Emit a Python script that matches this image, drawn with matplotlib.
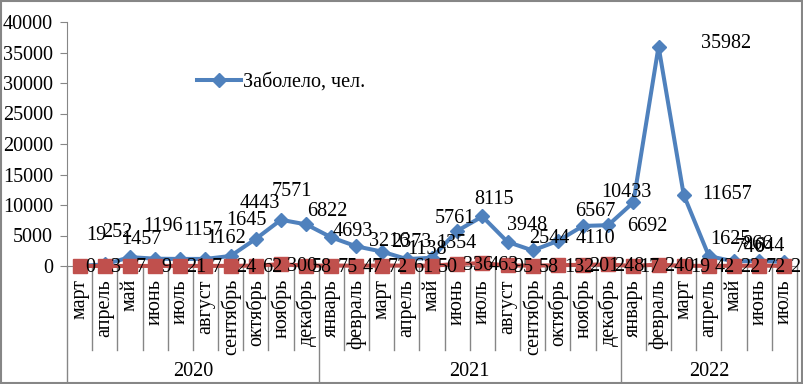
import matplotlib
matplotlib.use('Agg')
import matplotlib.pyplot as plt
import matplotlib.transforms as mtransforms
from matplotlib.patches import Rectangle

plt.rcParams['font.family'] = ['Liberation Serif', 'DejaVu Serif']

# data
years = ['2020', '2021', '2022']
months_2020 = ['март', 'апрель', 'май', 'июнь', 'июль', 'август', 'сентябрь',
               'октябрь', 'ноябрь', 'декабрь']
months_2021 = ['январь', 'февраль', 'март', 'апрель', 'май', 'июнь', 'июль',
               'август', 'сентябрь', 'октябрь', 'ноябрь', 'декабрь']
months_2022 = ['январь', 'февраль', 'март', 'апрель', 'май', 'июнь', 'июль']

sick = [19, 252, 1457, 1196, 1157, 1162, 1645, 4443, 7571, 6822,
        4693, 3216, 2373, 1138, 1354, 5761, 8115, 3948, 2544, 4110, 6567, 6692,
        10433, 35982, 11657, 1625, 746, 866, 644]
died = [0, 3, 7, 9, 21, 7, 24, 62, 300, 58,
        75, 47, 72, 61, 50, 336, 463, 95, 58, 132, 201, 248,
        17, 240, 19, 42, 22, 72, 2]

# label offsets for the blue series (pixels), tuned by eye
sick_lbl_off = [(17, 30), (12, 32), (11, 18), (8, 32), (23, 28), (21, 20), (16, 35),
                (4, 35), (11, 28), (21, 13), (21, 6), (33, 5), (30, 9), (20, 10),
                (24, 14), (-2, 12), (12, 17), (20, 16), (17, 12), (38, 2), (12, 14),
                (39, -1), (-7, 10), (68, 3), (43, 0), (22, 17), (16, 14), (-2, 16),
                (-15, 16)]

months = months_2020 + months_2021 + months_2022
year_sizes = [len(months_2020), len(months_2021), len(months_2022)]
x = list(range(len(months)))

blue = '#4F81BD'
red = '#C0504D'
grey = '#868686'
fs = 14.5

fig = plt.figure(figsize=(8.04, 3.84), dpi=100)
ax = fig.add_axes([67/804, 1 - 266/384, 730/804, 244/384])

ax.plot(x, sick, color=blue, lw=2.9, marker='D', ms=7, label='Заболело, чел.',
        zorder=3, clip_on=False)
ax.plot(x, died, color=red, lw=2.9, marker='s', ms=10, zorder=4, clip_on=False)

for i, v in enumerate(sick):
    ax.annotate(str(v), (i, v), xytext=sick_lbl_off[i], textcoords='offset pixels',
                ha='center', va='center', fontsize=fs, zorder=6)
for i, v in enumerate(died):
    ax.annotate(str(v), (i, v), xytext=(6, -2), textcoords='offset pixels',
                ha='left', va='center', fontsize=fs, zorder=6)

ax.set_xlim(-0.5, len(months) - 0.5)
ax.set_ylim(0, 40000)
ax.set_yticks(range(0, 40001, 5000))
ax.set_xticks([])
ax.tick_params(axis='y', direction='out', length=5, color=grey, labelsize=fs, pad=5)
for s in ['top', 'right']:
    ax.spines[s].set_visible(False)
ax.spines['left'].set_color(grey)
ax.spines['bottom'].set_color(grey)

# two-level category axis drawn by hand
trans = mtransforms.blended_transform_factory(ax.transData, ax.transAxes)
y_month_end = (266 - 350) / 244
y_bottom = (266 - 382) / 244
y_month_txt = (266 - 279) / 244
y_year_txt = (266 - 372) / 244

bounds = [0]
for n in year_sizes:
    bounds.append(bounds[-1] + n)
for i in range(len(months) + 1):
    y_end = y_bottom if i in bounds else y_month_end
    ax.plot([i - 0.5, i - 0.5], [0, y_end], color=grey, lw=1, transform=trans, clip_on=False)
for i, m in enumerate(months):
    ax.text(i, y_month_txt, m, rotation=90, ha='center', va='top', fontsize=fs,
            transform=trans)
for k, yr in enumerate(years):
    mid = (bounds[k] + bounds[k + 1]) / 2 - 0.5
    ax.text(mid, y_year_txt, yr, ha='center', va='center', fontsize=fs, transform=trans)

ax.legend(loc='center left', bbox_to_anchor=(0.178, 0.754), frameon=False, fontsize=fs,
          handlelength=2.2, handletextpad=0.1, borderpad=0, borderaxespad=0)

fig.patches.append(Rectangle((0.001, 0.002), 0.997, 0.995, transform=fig.transFigure,
                             fill=False, edgecolor=grey, lw=1.5))

plt.savefig('out.png', dpi=100)
